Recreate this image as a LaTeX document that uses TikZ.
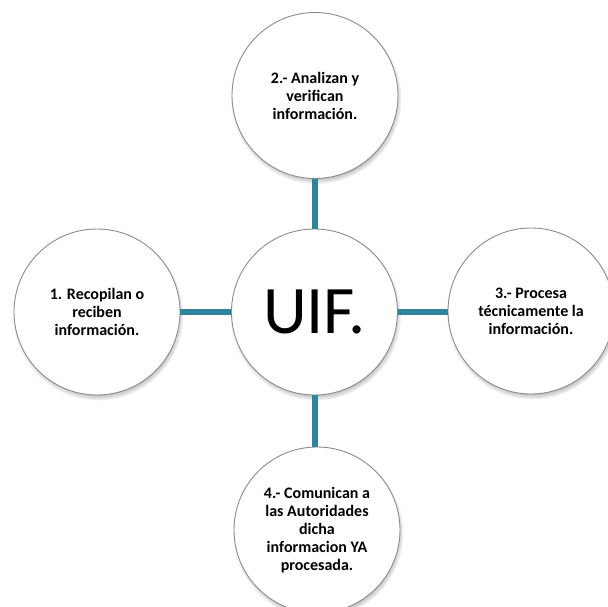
\documentclass[tikz,border=0pt]{standalone}
\usepackage{fontspec}
\setmainfont{Carlito}
\usetikzlibrary{shadows}
\definecolor{linkteal}{RGB}{49,133,155}
\definecolor{rimgray}{RGB}{140,140,140}
\begin{document}
\begin{tikzpicture}[x=1pt,y=-1pt,
  bub/.style={circle, draw=rimgray, line width=0.9pt, fill=white, minimum size=166pt,
    inner sep=0pt, align=center, font=\bfseries\fontsize{16}{18}\selectfont,
    circular drop shadow={shadow xshift=1pt, shadow yshift=-3pt, shadow scale=1.03}},
  link/.style={draw=linkteal, line width=6pt}]
\useasboundingbox (0,0) rectangle (608,607);
\node[bub, font=\fontsize{68}{70}\selectfont] (c) at (314.5,312) {UIF.};
\node[bub] (t) at (315,95.5) {2.- Analizan y\\verifican\\información.};
\node[bub] (l) at (97,312) {1. Recopilan o\\reciben\\información.};
\node[bub] (r) at (531,311) {3.- Procesa\\técnicamente la\\información.};
\node[bub] (b) at (317,530) {4.- Comunican a\\las Autoridades\\dicha\\informacion YA\\procesada.};
\draw[link] (c.north) -- (c.north |- t.south);
\draw[link] (c.west) -- (l.east |- c.west);
\draw[link] (c.east) -- (r.west |- c.east);
\draw[link] (c.south) -- (c.south |- b.north);
\end{tikzpicture}
\end{document}
